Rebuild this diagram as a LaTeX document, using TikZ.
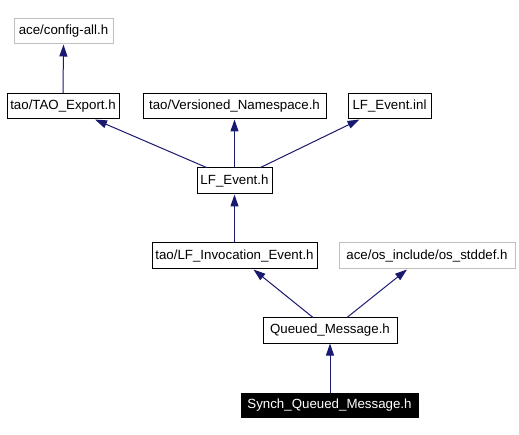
\documentclass[tikz,border=0pt]{standalone}
\usepackage{fontspec}
\setmainfont{Liberation Sans}
\usetikzlibrary{arrows.meta}
\definecolor{edgeblue}{HTML}{191970}
\definecolor{grayframe}{HTML}{BFBFBF}
\tikzset{
  filebox/.style={draw=black, line width=1pt, fill=white, inner sep=0pt, minimum height=25pt, font=\fontsize{13.3}{16}\selectfont, text=black},
  extbox/.style={filebox, draw=grayframe},
  mainbox/.style={filebox, fill=black, text=white},
  dep/.style={draw=edgeblue, line width=1pt, -{Triangle[length=12pt,width=8pt]}, shorten >=0pt}
}
\begin{document}
\begin{tikzpicture}[x=1pt,y=-1pt]
\useasboundingbox (0,0) rectangle (519,435);
\node[extbox, minimum width=99pt] (cfg) at (63.5,31.5) {ace/config-all.h};
\node[filebox, minimum width=112pt] (tao) at (63,106.5) {tao/TAO\_Export.h};
\node[filebox, minimum width=183pt] (ver) at (234.5,106.5) {tao/Versioned\_Namespace.h};
\node[filebox, minimum width=83pt] (inl) at (389.5,106.5) {LF\_Event.inl};
\node[filebox, minimum width=75pt, minimum height=26pt] (lfh) at (234.5,181) {LF\_Event.h};
\node[filebox, minimum width=165pt, minimum height=26pt] (inv) at (234.5,256) {tao/LF\_Invocation\_Event.h};
\node[extbox, minimum width=176pt, minimum height=26pt] (std) at (427,256) {ace/os\_include/os\_stddef.h};
\node[filebox, minimum width=134pt] (qm) at (330,330.5) {Queued\_Message.h};
\node[mainbox, minimum width=177pt, minimum height=24pt] (syn) at (329.5,405) {Synch\_Queued\_Message.h};

\draw[dep] (tao.north) -- (cfg.south);
\draw[dep] ([xshift=-28pt]lfh.north) -- ([xshift=32pt]tao.south);
\draw[dep] (lfh.north) -- (ver.south);
\draw[dep] ([xshift=26pt]lfh.north) -- ([xshift=-30pt]inl.south);
\draw[dep] (inv.north) -- (lfh.south);
\draw[dep] ([xshift=-17pt]qm.north) -- ([xshift=19pt]inv.south);
\draw[dep] ([xshift=17pt]qm.north) -- ([xshift=-20pt]std.south);
\draw[dep] ([xshift=0.5pt]syn.north) -- (qm.south);
\end{tikzpicture}
\end{document}
